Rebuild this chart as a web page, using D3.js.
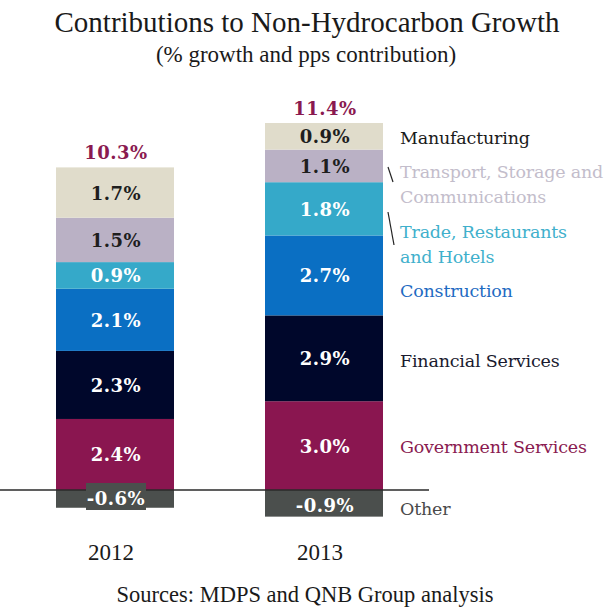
<!DOCTYPE html>
<html>
<head>
<meta charset="utf-8">
<script src="https://cdnjs.cloudflare.com/ajax/libs/d3/7.8.5/d3.min.js"></script>
<style>
  body { margin: 0; background: #fff; }
  svg { display: block; }
</style>
</head>
<body>
<svg id="chart"></svg>
<script>
// data (pps contributions)
var years = ["2012", "2013"];
var categories = ["Government Services", "Financial Services", "Construction",
                  "Trade, Restaurants and Hotels", "Transport, Storage and Communications",
                  "Manufacturing", "Other"];
var values2012 = [2.4, 2.3, 2.1, 0.9, 1.5, 1.7, -0.6];
var values2013 = [3.0, 2.9, 2.7, 1.8, 1.1, 0.9, -0.9];
var totals = ["10.3%", "11.4%"];
var legendLines = [["Government Services"], ["Financial Services"], ["Construction"],
                   ["Trade, Restaurants", "and Hotels"], ["Transport, Storage and", "Communications"],
                   ["Manufacturing"], ["Other"]];

var colors = ["#8a1650", "#00072b", "#0a6fc3", "#35a9c9", "#bab1c5", "#e0dccb", "#4b4f4d"];
var legendColors = ["#8a1a50", "#1a1a2e", "#1f6bc2", "#3fb0cc", "#c3bdcb", "#1a1a1a", "#4a4a4a"];
var darkText = ["Transport, Storage and Communications", "Manufacturing"];
// legend baselines (first line) in px
var legendY = [453, 367, 297, 238, 178, 144, 515];

var width = 613, height = 607;
var barWidth = 118;
var valueFont = "'DejaVu Serif', serif";

var svg = d3.select("#chart").attr("width", width).attr("height", height);

var x = d3.scalePoint().domain(years).range([115, 324]);
var y = d3.scaleLinear().domain([0, 12.4]).range([490, 123]);

// stack values: positives upward from 0, negatives downward
function stackYear(vals) {
  var pos = 0, neg = 0;
  return vals.map(function(v, i) {
    var d = {cat: categories[i], v: v, i: i};
    if (v >= 0) { d.y0 = pos; d.y1 = pos + v; pos += v; }
    else { d.y0 = neg + v; d.y1 = neg; neg += v; }
    return d;
  });
}
var stacks = [stackYear(values2012), stackYear(values2013)];

years.forEach(function(yr, k) {
  var g = svg.append("g");
  g.selectAll("rect").data(stacks[k]).enter().append("rect")
    .attr("x", x(yr) - barWidth / 2)
    .attr("width", barWidth)
    .attr("y", function(d) { return y(d.y1); })
    .attr("height", function(d) { return y(d.y0) - y(d.y1); })
    .attr("fill", function(d) { return colors[d.i]; });
});

// zero line
svg.append("line")
  .attr("x1", 0).attr("x2", 429)
  .attr("y1", y(0)).attr("y2", y(0))
  .attr("stroke", "#2a2a2a").attr("stroke-width", 1.3);

// value labels
years.forEach(function(yr, k) {
  var g = svg.append("g");
  stacks[k].forEach(function(d) {
    var cy = (y(d.y0) + y(d.y1)) / 2;
    var label = d.v.toFixed(1) + "%";
    if (d.v < 0 && k === 0) {
      g.append("rect").attr("x", x(yr) - 29).attr("y", y(0) - 7)
        .attr("width", 60).attr("height", 27).attr("fill", colors[d.i]);
    }
    g.append("text")
      .attr("x", x(yr) + 1)
      .attr("y", d.v < 0 ? y(0) + (k === 0 ? 15 : 22) : cy + 7)
      .attr("text-anchor", "middle")
      .style("font-family", valueFont)
      .style("font-weight", "bold")
      .style("font-size", "18px")
      .style("letter-spacing", "0.5px")
      .attr("fill", darkText.indexOf(d.cat) >= 0 ? "#1e1e1e" : "#ffffff")
      .text(label);
  });
  // total on top
  var top = d3.max(stacks[k], function(d) { return d.y1; });
  svg.append("text")
    .attr("x", x(yr) + 1).attr("y", y(top) - 8)
    .attr("text-anchor", "middle")
    .style("font-family", valueFont)
    .style("font-weight", "bold")
    .style("font-size", "18px")
    .style("letter-spacing", "0.5px")
    .attr("fill", "#8a1a50")
    .text(totals[k]);
});

// legend labels on the right
categories.forEach(function(c, i) {
  var t = svg.append("text")
    .attr("x", 400).attr("y", legendY[i])
    .style("font-family", "'DejaVu Serif', serif")
    .style("font-size", "17.5px")
    .style("letter-spacing", "-0.2px")
    .attr("fill", legendColors[i]);
  legendLines[i].forEach(function(line, j) {
    t.append("tspan").attr("x", 400).attr("dy", j === 0 ? 0 : 25).text(line);
  });
});

// small leader ticks
svg.append("line").attr("x1", 388).attr("y1", legendY[4] - 11).attr("x2", 393).attr("y2", legendY[4] + 4)
  .attr("stroke", "#222").attr("stroke-width", 1.2);
svg.append("line").attr("x1", 388).attr("y1", legendY[3] - 26).attr("x2", 394).attr("y2", legendY[3] + 7)
  .attr("stroke", "#222").attr("stroke-width", 1.2);

// year axis labels
svg.append("g").selectAll("text").data(years).enter().append("text")
  .attr("x", function(d) { return x(d) - 4; })
  .attr("y", 560)
  .attr("text-anchor", "middle")
  .style("font-family", "'Liberation Serif', serif")
  .style("font-size", "23px")
  .attr("fill", "#1a1a1a")
  .text(function(d) { return d; });

// title, subtitle, source
svg.append("text").attr("x", 307).attr("y", 32).attr("text-anchor", "middle")
  .style("font-family", "'Liberation Serif', serif").style("font-size", "29px")
  .attr("fill", "#1a1a1a").text("Contributions to Non-Hydrocarbon Growth");
svg.append("text").attr("x", 306).attr("y", 62).attr("text-anchor", "middle")
  .style("font-family", "'Liberation Serif', serif").style("font-size", "23px")
  .attr("fill", "#1a1a1a").text("(% growth and pps contribution)");
svg.append("text").attr("x", 305).attr("y", 602).attr("text-anchor", "middle")
  .style("font-family", "'Liberation Serif', serif").style("font-size", "22.5px")
  .attr("fill", "#1a1a1a").text("Sources: MDPS and QNB Group analysis");
</script>
</body>
</html>
